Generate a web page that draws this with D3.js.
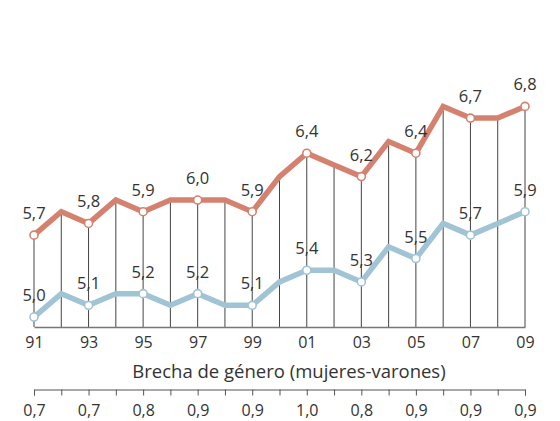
<!DOCTYPE html>
<html>
<head>
<meta charset="utf-8">
<script src="https://cdn.jsdelivr.net/npm/d3@7"></script>
<style>
  body { margin: 0; background: #fff; }
  svg { display: block; font-family: "Open Sans", "Noto Sans", sans-serif; }
</style>
</head>
<body>
<div class="chart"></div>
<script>
var svgWidth = 560;
var svgHeight = 421;

// años (91 .. 09)
var years = ["91","92","93","94","95","96","97","98","99","00","01","02","03","04","05","06","07","08","09"];
// mujeres (línea roja)
var mujeres = [5.7,5.9,5.8,6.0,5.9,6.0,6.0,6.0,5.9,6.2,6.4,6.3,6.2,6.5,6.4,6.8,6.7,6.7,6.8];
// varones (línea azul)
var varones = [5.0,5.2,5.1,5.2,5.2,5.1,5.2,5.1,5.1,5.3,5.4,5.4,5.3,5.6,5.5,5.8,5.7,5.8,5.9];
// brecha de género, solo años impares
var brecha = ["0,7","0,7","0,8","0,9","0,9","1,0","0,8","0,9","0,9","0,9"];

var redColor = "#d4826f";
var blueColor = "#a0c4d4";
var textColor = "#333";
var fontFam = "'Open Sans', sans-serif";

var svg = d3.select(".chart")
  .append("svg")
  .attr("width", svgWidth)
  .attr("height", svgHeight);

var x = d3.scalePoint()
  .domain(years)
  .range([34, 525]);

var y = d3.scaleLinear()
  .domain([4.915, 7.0])
  .range([327, 83]);

var fmt = v => d3.format(".1f")(v).replace(".", ",");
var isOdd = (d, i) => i % 2 === 0;

var rows = years.map((yr, i) => ({ year: yr, i: i, m: mujeres[i], v: varones[i] }));

// vertical lines from the top series down to the baseline
svg.append("g")
  .selectAll("line")
  .data(rows)
  .enter().append("line")
  .attr("x1", d => x(d.year))
  .attr("x2", d => x(d.year))
  .attr("y1", d => y(d.m))
  .attr("y2", y(4.915))
  .attr("stroke", "#444")
  .attr("stroke-width", 1);

// main x axis
var bottomAxis = d3.axisBottom(x)
  .tickSize(0)
  .tickPadding(0)
  .tickFormat((d, i) => i % 2 === 0 ? d : "");

var xAxis = svg.append("g")
  .attr("transform", `translate(0, ${y(4.915)})`)
  .call(bottomAxis);
xAxis.select(".domain").attr("stroke", "#777").attr("stroke-width", 1.5);
xAxis.selectAll("text")
  .attr("y", 21)
  .attr("dy", 0)
  .attr("fill", textColor)
  .style("font-size", "16px")
  .style("font-family", fontFam);

// lines
var series = [
  { key: "m", color: redColor },
  { key: "v", color: blueColor }
];

series.forEach(function (s) {
  var drawLine = d3.line()
    .x(d => x(d.year))
    .y(d => y(d[s.key]));

  svg.append("path")
    .attr("d", drawLine(rows))
    .attr("fill", "none")
    .attr("stroke", s.color)
    .attr("stroke-width", 5.5)
    .attr("stroke-linejoin", "miter");

  var pts = rows.filter(isOdd);

  svg.append("g")
    .selectAll("circle")
    .data(pts)
    .enter().append("circle")
    .attr("cx", d => x(d.year))
    .attr("cy", d => y(d[s.key]))
    .attr("r", 4)
    .attr("fill", "#fff")
    .attr("stroke", s.color)
    .attr("stroke-width", 1.6);

  svg.append("g")
    .selectAll("text")
    .data(pts)
    .enter().append("text")
    .attr("x", d => x(d.year))
    .attr("y", d => y(d[s.key]) - 16)
    .attr("text-anchor", "middle")
    .attr("fill", textColor)
    .style("font-size", "16.5px")
    .text(d => fmt(d[s.key]));
});

// gap title
svg.append("text")
  .attr("x", 289)
  .attr("y", 378)
  .attr("text-anchor", "middle")
  .attr("fill", textColor)
  .style("font-size", "18.5px")
  .text("Brecha de género (mujeres-varones)");

// gap axis
var gapAxis = d3.axisBottom(x)
  .tickSize(6)
  .tickSizeOuter(6)
  .tickFormat((d, i) => i % 2 === 0 ? brecha[i / 2] : "");

var gAxis = svg.append("g")
  .attr("transform", "translate(0, 389.5)")
  .call(gapAxis);
gAxis.selectAll("line, .domain").attr("stroke", "#555");
gAxis.selectAll("text")
  .attr("y", 26.5)
  .attr("dy", 0)
  .attr("fill", textColor)
  .style("font-size", "16px")
  .style("font-family", fontFam);
</script>
</body>
</html>
